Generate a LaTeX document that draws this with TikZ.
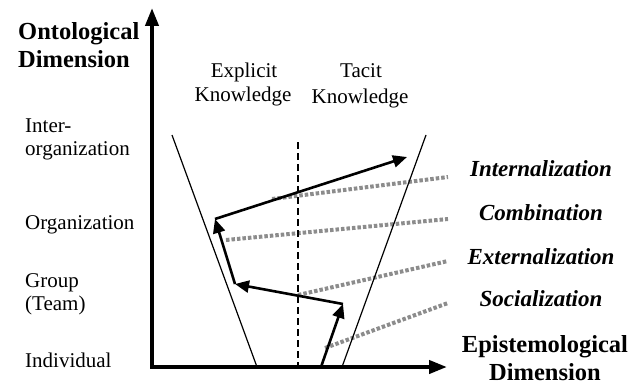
\documentclass[tikz,border=0pt]{standalone}
\usepackage{fontspec}
\setmainfont{Liberation Serif}
\usetikzlibrary{arrows.meta}
\definecolor{modegray}{RGB}{140,140,140}
\begin{document}
\begin{tikzpicture}[x=1pt,y=-1pt,
  lab/.style={font=\fontsize{21}{25}\selectfont, inner sep=0pt},
  dimlab/.style={font=\fontsize{24.5}{28}\selectfont\bfseries, inner sep=0pt},
  modelab/.style={font=\fontsize{23}{27}\selectfont\bfseries\itshape, inner sep=0pt, anchor=base},
  axisline/.style={line width=4pt, {Triangle[length=18pt,width=13pt]}-{Triangle[length=18pt,width=13pt]}},
  flow/.style={line width=2.6pt, -{Triangle[length=14pt,width=12pt]}},
  funnel/.style={line width=1.2pt},
  divider/.style={line width=2pt, dash pattern=on 7pt off 4pt},
  modeline/.style={line width=4pt, draw=modegray, dash pattern=on 3.5pt off 2pt}]
\useasboundingbox (0,0) rectangle (636,385);

% axes
\coordinate (ytop) at (152,8);
\coordinate (O) at (152,367);
\coordinate (xend) at (447,367);

% axis labels
\node[dimlab, anchor=base west] (ont1) at (18,40) {Ontological};
\node[dimlab, anchor=base west] (ont2) at (18,68) {Dimension};
\node[dimlab, anchor=base] (epi1) at (545,352) {Epistemological};
\node[dimlab, anchor=base] (epi2) at (545,380.5) {Dimension};

% level labels
\node[lab, anchor=base west] (inter1) at (25,132) {Inter-};
\node[lab, anchor=base west] (inter2) at (25,155) {organization};
\node[lab, anchor=base west] (org) at (25,229) {Organization};
\node[lab, anchor=base west] (grp1) at (25,287) {Group};
\node[lab, anchor=base west] (grp2) at (25,310) {(Team)};
\node[lab, anchor=base west] (ind) at (25,367) {Individual};

% knowledge labels
\node[lab, anchor=base] (exp1) at (244,78) {Explicit};
\node[lab, anchor=base] (exp2) at (243,102) {Knowledge};
\node[lab, anchor=base] (tac1) at (361,78) {Tacit};
\node[lab, anchor=base] (tac2) at (360,103) {Knowledge};

% mode labels
\node[modelab] (intl) at (541,176) {Internalization};
\node[modelab] (comb) at (541,220) {Combination};
\node[modelab] (extl) at (541,264) {Externalization};
\node[modelab] (socl) at (541,306) {Socialization};

% gray mode lines
\coordinate (i0) at (272,199); \coordinate (i1) at (448,177);
\coordinate (c0) at (226,240); \coordinate (c1) at (448,219);
\coordinate (e0) at (298,295); \coordinate (e1) at (448,261);
\coordinate (so0) at (325,348); \coordinate (so1) at (448,303);
\draw[modeline] (i0) -- (i1);
\draw[modeline] (c0) -- (c1);
\draw[modeline] (e0) -- (e1);
\draw[modeline] (so0) -- (so1);

% funnel
\coordinate (fl0) at (172,135); \coordinate (fl1) at (257,367);
\coordinate (fr0) at (426,135); \coordinate (fr1) at (342,367);
\draw[funnel] (fl0) -- (fl1);
\draw[funnel] (fr0) -- (fr1);

% divider
\coordinate (d0) at (298,142); \coordinate (d1) at (298,367);
\draw[divider] (d0) -- (d1);

% spiral
\coordinate (s0) at (321,367);
\coordinate (s1) at (343,304);
\coordinate (s2) at (235,284);
\coordinate (s3) at (215,219);
\coordinate (s4) at (407,157);
\draw[flow] (s0) -- (s1);
\draw[flow] (s1) -- (s2);
\draw[flow] (s2) -- (s3);
\draw[flow] (s3) -- (s4);

\draw[axisline] (ytop) -- (O) -- (xend);
\end{tikzpicture}
\end{document}
